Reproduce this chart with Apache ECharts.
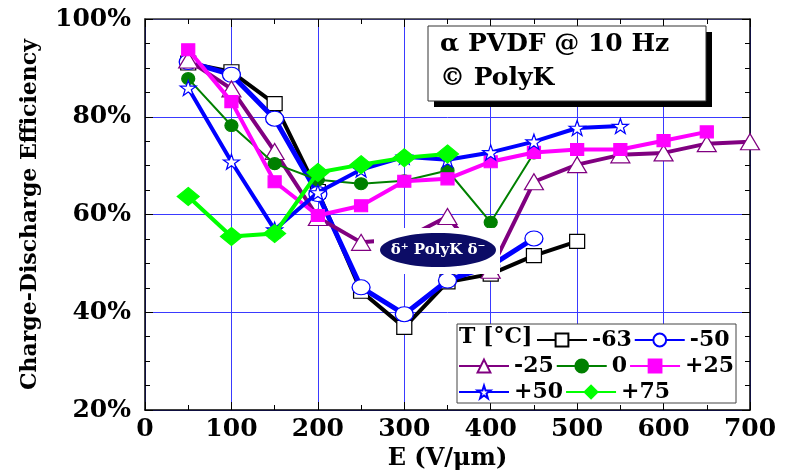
<!DOCTYPE html>
<html>
<head>
<meta charset="utf-8">
<script src="https://cdn.jsdelivr.net/npm/echarts@6/dist/echarts.min.js"></script>
<style>
html,body{margin:0;padding:0;background:#fff;}
#chart{width:798px;height:470px;}
</style>
</head>
<body>
<div id="chart"></div>
<script>
// Applied field (V/um) at which each temperature was measured
const fieldE = [50, 100, 150, 200, 250, 300, 350, 400, 450, 500, 550, 600, 650, 700];

// Charge-discharge efficiency (%) per temperature
const effM63 = [91.0, 89.2, 82.7, 64.7, 44.3, 36.9, 46.2, 47.8, 51.6, 54.5];
const effM50 = [91.2, 88.6, 79.6, 64.2, 45.1, 39.6, 46.5, 49.5, 55.1];
const effM25 = [91.6, 85.7, 72.9, 59.4, 54.3, 55.0, 59.6, 48.6, 66.7, 70.2, 72.2, 72.6, 74.5, 74.9];
const effZero = [87.8, 78.2, 70.4, 67.1, 66.3, 66.9, 69.0, 58.4, 72.6];
const effP25 = [93.7, 83.1, 66.7, 59.8, 61.8, 66.8, 67.3, 70.8, 72.7, 73.3, 73.3, 75.1, 76.9];
const effP50 = [85.9, 70.8, 56.9, 64.5, 69.2, 71.8, 71.2, 72.7, 74.9, 77.7, 78.1];
const effP75 = [63.7, 55.5, 56.1, 68.6, 70.2, 71.6, 72.4];

const tempNames = ['-63', '-50', '-25', '0', '+25', '+50', '+75'];
const xTicks = [0, 100, 200, 300, 400, 500, 600, 700];
const yTicks = [20, 40, 60, 80, 100];

const serif = 'DejaVu Serif';
const starPath = 'path://M50,0 L61.8,35.1 L98.1,35.1 L68.8,56.7 L79.4,91.3 L50,70 L20.6,91.3 L31.2,56.7 L1.9,35.1 L38.2,35.1 Z';

function pairs(vals) {
  return vals.map((v, i) => [fieldE[i], v]);
}

const styles = [
  { data: effM63, color: '#000000', width: 4, symbol: 'rect', size: [15, 14], fill: '#ffffff', border: '#000000' },
  { data: effM50, color: '#0000ff', width: 5, symbol: 'circle', size: [18, 15], fill: '#ffffff', border: '#0000ff' },
  { data: effM25, color: '#800080', width: 4, symbol: 'triangle', size: [19, 16], fill: '#ffffff', border: '#800080' },
  { data: effZero, color: '#008000', width: 2, symbol: 'circle', size: [13, 12], fill: '#008000', border: '#008000' },
  { data: effP25, color: '#ff00ff', width: 4, symbol: 'rect', size: [13, 12], fill: '#ff00ff', border: '#ff00ff' },
  { data: effP50, color: '#0000ff', width: 4, symbol: starPath, size: [16, 15], fill: '#ffffff', border: '#0000ff' },
  { data: effP75, color: '#00ff00', width: 4, symbol: 'diamond', size: [22, 18], fill: '#00ff00', border: '#00ff00' }
];

const series = styles.map((s, i) => ({
  name: tempNames[i],
  type: 'line',
  data: pairs(s.data),
  symbol: s.symbol,
  symbolSize: s.size,
  showAllSymbol: true,
  lineStyle: { color: s.color, width: s.width },
  itemStyle: { color: s.fill, borderColor: s.border, borderWidth: 1.2 },
  emphasis: { disabled: true },
  animation: false,
  z: 2 + i * 0.01
}));

const legendText = { fontFamily: serif, fontWeight: 'bold', fontSize: 22, color: '#000' };
function legendRow(names, left, top) {
  return {
    data: names, left: left, top: top, orient: 'horizontal',
    itemWidth: 50, itemHeight: 16, itemGap: 2,
    textStyle: legendText, padding: 0, selectedMode: false, z: 6
  };
}

const chart = echarts.init(document.getElementById('chart'), null, { renderer: 'canvas' });

const axisLbl = { fontFamily: serif, fontWeight: 'bold', fontSize: 25, color: '#000' };

chart.setOption({
  animation: false,
  grid: { left: 145, right: 48, top: 19, bottom: 60, outerBoundsMode: 'none', containLabel: false },
  xAxis: [{
    type: 'value', min: xTicks[0], max: xTicks[xTicks.length - 1], interval: 100,
    name: 'E (V/\u03bcm)', nameLocation: 'middle', nameGap: 36,
    nameTextStyle: { fontFamily: serif, fontWeight: 'bold', fontSize: 24, color: '#000' },
    axisLine: { show: true, onZero: false, lineStyle: { color: '#000', width: 1.5 } },
    axisTick: { inside: true, length: 8, lineStyle: { color: '#000' } },
    minorTick: { show: true, splitNumber: 2, length: 5, lineStyle: { color: '#000' } },
    axisLabel: Object.assign({ margin: 7 }, axisLbl),
    splitLine: { show: true, lineStyle: { color: '#3a3aff', width: 1 } }
  }, {
    type: 'value', position: 'top', min: xTicks[0], max: xTicks[xTicks.length - 1], interval: 100,
    axisLine: { show: true, onZero: false, lineStyle: { color: '#333', width: 1.5 } },
    axisTick: { inside: true, length: 8, lineStyle: { color: '#000' } },
    minorTick: { show: true, splitNumber: 2, length: 5, lineStyle: { color: '#000' } },
    axisLabel: { show: false }, splitLine: { show: false }
  }],
  yAxis: [{
    type: 'value', min: yTicks[0], max: yTicks[yTicks.length - 1], interval: 20,
    name: 'Charge-Discharge Efficiency', nameLocation: 'middle', nameGap: 104, nameRotate: 90,
    nameTextStyle: { fontFamily: serif, fontWeight: 'bold', fontSize: 22, color: '#000' },
    axisLine: { show: true, onZero: false, lineStyle: { color: '#000', width: 1.5 } },
    axisTick: { inside: true, length: 8, lineStyle: { color: '#000' } },
    minorTick: { show: true, splitNumber: 4, length: 5, lineStyle: { color: '#000' } },
    axisLabel: Object.assign({ margin: 14, formatter: '{value}%' }, axisLbl),
    splitLine: { show: true, lineStyle: { color: '#3a3aff', width: 1 } }
  }, {
    type: 'value', position: 'right', min: yTicks[0], max: yTicks[yTicks.length - 1], interval: 20,
    axisLine: { show: true, onZero: false, lineStyle: { color: '#000', width: 1.5 } },
    axisTick: { inside: true, length: 8, lineStyle: { color: '#000' } },
    minorTick: { show: true, splitNumber: 4, length: 5, lineStyle: { color: '#000' } },
    axisLabel: { show: false }, splitLine: { show: false }
  }],
  legend: [
    legendRow(tempNames.slice(0, 2), 536, 329),
    legendRow(tempNames.slice(2, 5), 458, 355),
    legendRow(tempNames.slice(5, 7), 458, 381)
  ],
  series: series,
  graphic: [
    // sample caption box with drop shadow
    { type: 'rect', shape: { x: 434, y: 32, width: 278, height: 75 }, style: { fill: '#000' }, z: 5 },
    { type: 'rect', shape: { x: 428, y: 26, width: 278, height: 75 }, style: { fill: '#fff', stroke: '#333', lineWidth: 1 }, z: 5 },
    { type: 'text', left: 440, top: 32, z: 6,
      style: { text: '\u03b1 PVDF @ 10 Hz', fontFamily: serif, fontWeight: 'bold', fontSize: 25, fill: '#000' } },
    { type: 'text', left: 440, top: 66, z: 6,
      style: { text: '\u00a9 PolyK', fontFamily: serif, fontWeight: 'bold', fontSize: 25, fill: '#000' } },
    // logo badge
    { type: 'rect', shape: { x: 374, y: 228, width: 126, height: 46 }, style: { fill: '#fff' }, z: 5 },
    { type: 'ellipse', shape: { cx: 438, cy: 250, rx: 58, ry: 17 }, style: { fill: '#0c0c66' }, z: 5 },
    { type: 'text', x: 438, y: 250, z: 6,
      style: { text: '\u03b4\u207a PolyK \u03b4\u207b', fontFamily: serif, fontWeight: 'bold', fontSize: 15, fill: '#fff', align: 'center', verticalAlign: 'middle' } },
    // legend frame
    { type: 'rect', shape: { x: 457, y: 324, width: 279, height: 79 }, style: { fill: '#fff', stroke: '#444', lineWidth: 1 }, z: 5 },
    { type: 'text', left: 459, top: 326, z: 6,
      style: { text: 'T [\u00b0C]', fontFamily: serif, fontWeight: 'bold', fontSize: 22, fill: '#000' } }
  ]
});
</script>
</body>
</html>
